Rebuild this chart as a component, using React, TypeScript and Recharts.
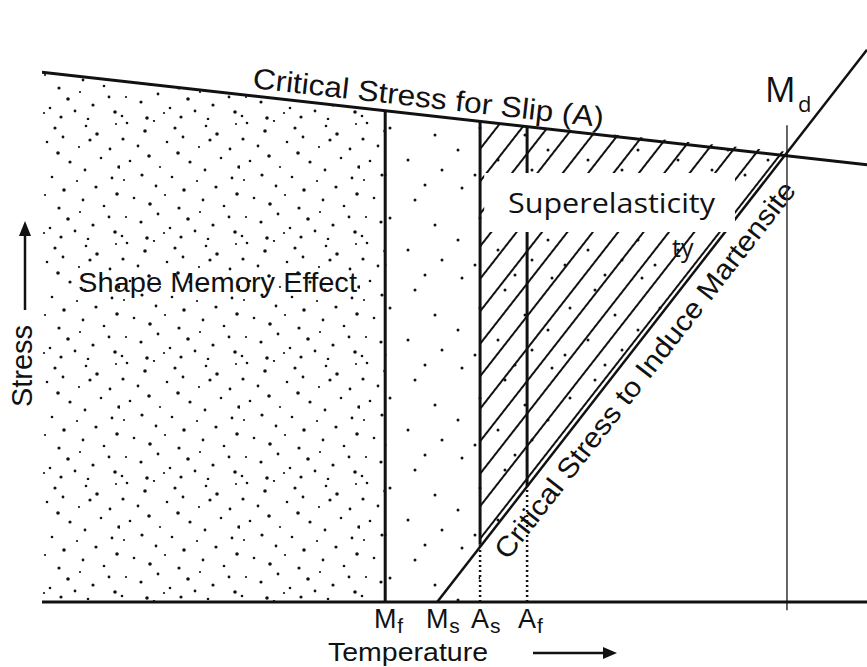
import React from 'react'
import { ComposedChart, XAxis, YAxis, Line, Area, ReferenceLine, ReferenceArea } from 'recharts'

// schematic units: temperature 0-100 (left axis -> right edge), stress 0-100 (x axis -> top)
const slipLine = [
  { t: 0, s: 89.8 },
  { t: 100, s: 74.1 },
]
const martensiteLine = [
  { t: 47.9, s: 0 },
  { t: 100, s: 93.6 },
]
const shapeMemoryZone = [
  { t: 0, s: 89.8 },
  { t: 41.6, s: 83.3 },
]
const transitionZone = [
  { t: 41.6, s: 83.3 },
  { t: 53.1, s: 81.5 },
]
const superelasticZone = [
  { t: 53.1, s: [9.4, 81.5] },
  { t: 90.3, s: [76.3, 76.3] },
]

const tempTicks = [41.6, 47.9, 53.1, 58.8]
const tickLabels = [
  ['M', 'f'],
  ['M', 's'],
  ['A', 's'],
  ['A', 'f'],
]

const MF = 41.6
const AS = 53.1
const AF = 58.8
const MD = 90.3

const INK = '#111'
const FONT = '"Liberation Sans", Arial, sans-serif'
const CAL = '"Open Sans", "Noto Sans", sans-serif'

// stipple texture (tile positions only)
const denseDots = [
  [7, 3], [25, 11], [34, 1], [55, 8], [63, 17], [86, 6], [97, 14], [116, 4],
  [3, 19], [18, 26], [47, 22], [58, 33], [79, 27], [90, 20], [110, 29],
  [10, 41], [29, 36], [40, 47], [70, 42], [85, 50], [101, 38], [119, 47],
  [4, 60], [22, 55], [36, 66], [52, 57], [64, 70], [77, 61], [96, 67], [112, 58],
  [14, 78], [30, 84], [45, 75], [59, 88], [83, 80], [104, 86], [117, 74],
  [6, 97], [21, 102], [38, 94], [50, 108], [68, 99], [80, 92], [93, 105], [109, 97],
  [2, 116], [27, 118], [44, 113], [61, 117], [75, 111], [88, 119], [115, 112],
]
const dotSizes = [1.3, 1.8, 1.1, 1.6, 1.4]
const sparseDots = [
  [12, 8], [55, 20], [30, 38], [75, 45], [8, 60], [48, 70], [82, 80], [25, 85], [65, 5],
]

function TempTick(props: any) {
  const { x, y, payload } = props
  const i = tempTicks.indexOf(payload.value)
  const [main, sub] = tickLabels[i] || ['', '']
  const half = main === 'M' ? 11 : 9
  return (
    <g>
      <text x={x} y={y + 18} textAnchor="middle" fontSize={27} fontFamily={FONT} fill={INK}>
        {main}
      </text>
      <text x={x + half + 1} y={y + 23} fontSize={21} fontFamily={FONT} fill={INK}>
        {sub}
      </text>
    </g>
  )
}

function BoxLabel() {
  return (
    <text x={508} y={213} fontSize={27} fontFamily={CAL} fill={INK} textLength={207} lengthAdjust="spacingAndGlyphs">
      Superelasticity
    </text>
  )
}

export default function App() {
  return (
    <div style={{ position: 'absolute', left: 0, top: 0, width: 867, height: 667, background: '#fff' }}>
      <ComposedChart width={867} height={667} margin={{ top: 12, right: 0, bottom: 0, left: 42 }}>
        <defs>
          <pattern id="stippleDense" patternUnits="userSpaceOnUse" width={120} height={120}>
            {denseDots.map(([cx, cy], i) => (
              <circle key={i} cx={cx} cy={cy} r={dotSizes[i % 5]} fill={INK} />
            ))}
          </pattern>
          <pattern id="stippleSparse" patternUnits="userSpaceOnUse" width={90} height={90}>
            {sparseDots.map(([cx, cy], i) => (
              <circle key={i} cx={cx} cy={cy} r={1.5} fill={INK} />
            ))}
          </pattern>
          <pattern id="hatch" patternUnits="userSpaceOnUse" width={20} height={20} patternTransform="rotate(38)">
            <line x1={10} y1={0} x2={10} y2={20} stroke={INK} strokeWidth={2} />
          </pattern>
        </defs>

        <XAxis
          type="number"
          dataKey="t"
          domain={[0, 100]}
          ticks={tempTicks}
          interval={0}
          height={65}
          axisLine={{ stroke: INK, strokeWidth: 3 }}
          tickLine={false}
          tick={<TempTick />}
          allowDataOverflow
        />
        <YAxis
          type="number"
          dataKey="s"
          domain={[0, 100]}
          width={0}
          tick={false}
          tickLine={false}
          axisLine={{ stroke: INK, strokeWidth: 3 }}
          allowDataOverflow
        />

        <Area data={shapeMemoryZone} dataKey="s" type="linear" stroke="none" fill="url(#stippleDense)" fillOpacity={1} isAnimationActive={false} />
        <Area data={transitionZone} dataKey="s" type="linear" stroke="none" fill="url(#stippleSparse)" fillOpacity={1} isAnimationActive={false} />
        <Area data={superelasticZone} dataKey="s" type="linear" stroke="none" fill="url(#hatch)" fillOpacity={1} isAnimationActive={false} />
        <Area data={superelasticZone} dataKey="s" type="linear" stroke="none" fill="url(#stippleSparse)" fillOpacity={1} isAnimationActive={false} />

        <ReferenceLine segment={[{ x: MF, y: 0 }, { x: MF, y: 83.3 }]} stroke={INK} strokeWidth={3} />
        <ReferenceLine segment={[{ x: AS, y: 0 }, { x: AS, y: 9.7 }]} stroke={INK} strokeWidth={2.5} strokeDasharray="2 3" />
        <ReferenceLine segment={[{ x: AS, y: 9.7 }, { x: AS, y: 81.5 }]} stroke={INK} strokeWidth={3} />
        <ReferenceLine segment={[{ x: AF, y: 0 }, { x: AF, y: 19.6 }]} stroke={INK} strokeWidth={2.5} strokeDasharray="2 3" />
        <ReferenceLine segment={[{ x: AF, y: 19.6 }, { x: AF, y: 80.6 }]} stroke={INK} strokeWidth={3} />
        <ReferenceLine segment={[{ x: MD, y: -1.4 }, { x: MD, y: 80.8 }]} stroke="#333" strokeWidth={1.5} ifOverflow="visible" />

        <Line data={slipLine} dataKey="s" type="linear" stroke={INK} strokeWidth={3} dot={false} activeDot={false} isAnimationActive={false} />
        <Line data={martensiteLine} dataKey="s" type="linear" stroke={INK} strokeWidth={2.5} dot={false} activeDot={false} isAnimationActive={false} />

        <ReferenceArea
          x1={53.6}
          x2={84.0}
          y1={62.7}
          y2={72.7}
          fill="#fff"
          fillOpacity={1}
          stroke="none"
          zIndex={450}
          label={<BoxLabel />}
        />

        <g fill={INK}>
          <text x={252} y={88} fontSize={29} fontFamily={FONT} textLength={353} lengthAdjust="spacingAndGlyphs" transform="rotate(6.4 252 88)">
            Critical Stress for Slip (A)
          </text>
          <text x={645} y={370} fontSize={28} fontFamily={FONT} textAnchor="middle" dominantBaseline="central" textLength={470} lengthAdjust="spacingAndGlyphs" transform="rotate(-52 645 370)">
            Critical Stress to Induce Martensite
          </text>
          <text x={78} y={292} fontSize={28} fontFamily={FONT} textLength={279} lengthAdjust="spacingAndGlyphs">
            Shape Memory Effect
          </text>
          <text x={672} y={257} fontSize={25} fontFamily={CAL}>
            ty
          </text>
          <text x={765} y={102} fontSize={34} fontFamily={CAL}>
            M
          </text>
          <text x={798} y={112} fontSize={22} fontFamily={CAL}>
            d
          </text>
          <text x={22} y={366} fontSize={29} fontFamily={FONT} textAnchor="middle" dominantBaseline="central" textLength={82} lengthAdjust="spacingAndGlyphs" transform="rotate(-90 22 366)">
            Stress
          </text>
          <text x={328} y={661} fontSize={26} fontFamily={FONT} textLength={160} lengthAdjust="spacingAndGlyphs">
            Temperature
          </text>
        </g>
        <g stroke={INK} fill={INK}>
          <line x1={533} y1={653} x2={606} y2={653} strokeWidth={2.5} />
          <polygon points="617,653 603,647 603,659" stroke="none" />
          <line x1={25} y1={310} x2={25} y2={234} strokeWidth={2.5} />
          <polygon points="25,221 19,236 31,236" stroke="none" />
        </g>
      </ComposedChart>
    </div>
  )
}
